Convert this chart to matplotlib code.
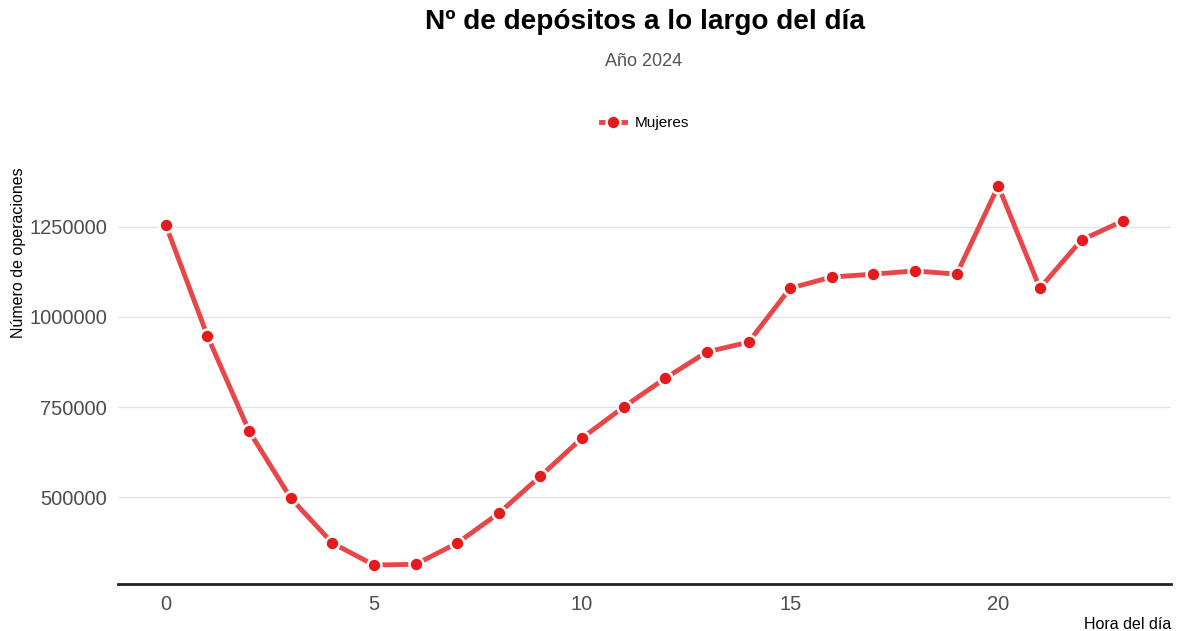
import matplotlib
matplotlib.use('Agg')
import numpy as np
import matplotlib.pyplot as plt
from matplotlib.ticker import FixedLocator

plt.rcParams['font.family'] = ['Liberation Sans', 'DejaVu Sans']

# Datos
horas = [0, 1, 2, 3, 4, 5, 6, 7, 8, 9, 10, 11,
         12, 13, 14, 15, 16, 17, 18, 19, 20, 21, 22, 23]
mujeres = [1255000, 947000, 683000, 497000, 372000, 311000, 313000, 372000,
           455000, 558000, 664000, 750000, 830000, 903000, 930000, 1080000,
           1111000, 1119000, 1128000, 1119000, 1364000, 1080000, 1214000, 1267000]
y_ticks = [500000, 750000, 1000000, 1250000]
x_ticks = [0, 5, 10, 15, 20]

fig = plt.figure(figsize=(11.77, 6.31), dpi=100)
ax = fig.add_axes([118 / 1177, 1 - 584 / 631, (1171 - 118) / 1177, (584 - 167) / 631])

ax.plot(horas, mujeres, color='#e8474a', lw=3.5, marker='o', ms=10,
        markerfacecolor='#e41a1c', markeredgecolor='white', markeredgewidth=1.8,
        label='Mujeres', zorder=3)

rng = max(mujeres) - min(mujeres)
ax.set_ylim(min(mujeres) - 0.05 * rng, max(mujeres) + 0.05 * rng)
ax.set_xlim(-1.15, 24.15)
ax.yaxis.set_major_locator(FixedLocator(y_ticks))
ax.xaxis.set_major_locator(FixedLocator(x_ticks))
ax.set_yticklabels([str(v) for v in y_ticks])

ax.grid(axis='y', color='#e3e3e3', lw=1)
ax.set_axisbelow(True)
for s in ['top', 'right', 'left']:
    ax.spines[s].set_visible(False)
ax.spines['bottom'].set_color('#222222')
ax.spines['bottom'].set_linewidth(2)
ax.tick_params(axis='both', length=0, labelsize=14.5, labelcolor='#4d4d4d', pad=8)

ax.set_ylabel('Número de operaciones', fontsize=11.5, color='black')
ax.yaxis.set_label_coords(-0.087, 1.0)
ax.yaxis.label.set_ha('right')
ax.set_xlabel('Hora del día', fontsize=11.5, color='black')
ax.xaxis.set_label_coords(1.0, -0.08)
ax.xaxis.label.set_ha('right')

fig.text(0.548, 0.965, 'Nº de depósitos a lo largo del día', ha='center', va='center',
         fontsize=20.2, fontweight='bold')
fig.text(0.547, 0.903, 'Año 2024', ha='center', va='center', fontsize=13, color='#555555')

fig.legend(loc='center', bbox_to_anchor=(0.548, 0.805), frameon=False, fontsize=11,
           handlelength=1.6, handletextpad=0.6)

fig.savefig('out.png', dpi=100, facecolor='white')
